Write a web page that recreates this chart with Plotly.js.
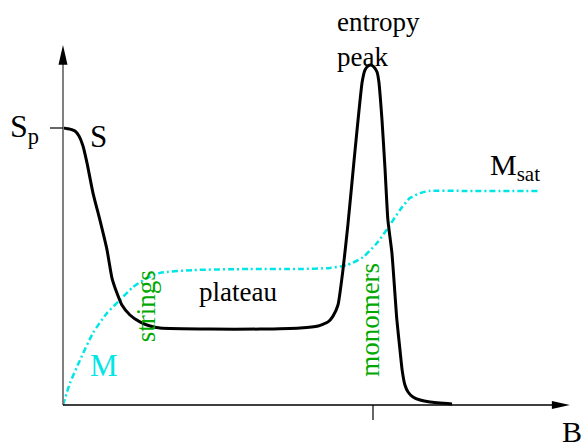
<!DOCTYPE html>
<html>
<head>
<meta charset="utf-8">
<script src="https://cdn.plot.ly/plotly-3.0.1.min.js"></script>
<style>html,body{margin:0;padding:0;background:#fff;}#chart{width:583px;height:448px;}</style>
</head>
<body>
<div id="chart"></div>
<script>
// Entropy S(B) (units of Sp) and magnetization M(B) (field in units of saturation-field tick)
var B_S = [0, 0.0226, 0.0387, 0.0516, 0.0645, 0.0774, 0.0968, 0.119, 0.142, 0.158, 0.174, 0.190, 0.216, 0.248, 0.281, 0.313, 0.474, 0.635, 0.765, 0.823, 0.855, 0.871, 0.887, 0.903, 0.919, 0.939, 0.955, 0.965, 0.974, 0.984, 0.994, 1.003, 1.013, 1.019, 1.029, 1.039, 1.048, 1.061, 1.077, 1.087, 1.094, 1.103, 1.113, 1.129, 1.152, 1.184, 1.255];
var S_vals = [1.0, 0.996, 0.989, 0.971, 0.935, 0.874, 0.765, 0.668, 0.560, 0.458, 0.404, 0.361, 0.325, 0.300, 0.285, 0.278, 0.274, 0.274, 0.278, 0.285, 0.300, 0.321, 0.361, 0.487, 0.650, 0.884, 1.065, 1.166, 1.209, 1.224, 1.227, 1.220, 1.202, 1.166, 1.029, 0.848, 0.668, 0.549, 0.307, 0.199, 0.126, 0.072, 0.047, 0.029, 0.018, 0.011, 0.004];

var B_M = [0, 0.0226, 0.0548, 0.0968, 0.142, 0.184, 0.226, 0.271, 0.313, 0.419, 0.603, 0.765, 0.861, 0.916, 0.968, 1.013, 1.048, 1.087, 1.119, 1.152, 1.184, 1.290, 1.532];
var M_vals = [0, 0.079, 0.162, 0.260, 0.332, 0.379, 0.426, 0.458, 0.477, 0.487, 0.491, 0.491, 0.495, 0.505, 0.534, 0.585, 0.639, 0.704, 0.747, 0.765, 0.773, 0.773, 0.773];

var xTickVals = [1];
var Bmax = 1.635;   // end of B axis arrow
var Smax = 1.30;    // end of S axis arrow

var green = '#00a800';
var cyan = '#00e6e6';
var serif = '"Liberation Serif", "DejaVu Serif", "Times New Roman", Times, "Nimbus Roman", "Nimbus Roman No9 L", "FreeSerif", "Noto Serif", Tinos, serif';

var traces = [
  {x: B_M, y: M_vals, mode: 'lines', type: 'scatter',
   line: {color: cyan, width: 2.5, dash: '6px,3px,2px,3px', shape: 'spline', smoothing: 0.6}, hoverinfo: 'skip'},
  {x: B_S, y: S_vals, mode: 'lines', type: 'scatter',
   line: {color: '#000', width: 3, shape: 'spline', smoothing: 0.5}, hoverinfo: 'skip'}
];

var shapes = [
  // y axis
  {type: 'line', xref: 'x', yref: 'y', x0: 0, x1: 0, y0: 0, y1: Smax - 0.06, line: {color: '#808080', width: 2}},
  {type: 'path', xref: 'x', yref: 'y', path: 'M -0.0145 ' + (Smax - 0.072) + ' L 0.0145 ' + (Smax - 0.072) + ' L 0 ' + Smax + ' Z', fillcolor: '#000', line: {width: 0}},
  // x axis
  {type: 'line', xref: 'x', yref: 'y', x0: 0, x1: Bmax - 0.05, y0: 0, y1: 0, line: {color: '#000', width: 1.5}},
  {type: 'path', xref: 'x', yref: 'y', path: 'M ' + (Bmax - 0.058) + ' -0.0144 L ' + (Bmax - 0.058) + ' 0.0144 L ' + Bmax + ' 0 Z', fillcolor: '#000', line: {width: 0}},
  // Sp tick
  {type: 'line', xref: 'x', yref: 'y', x0: -0.042, x1: 0, y0: 1, y1: 1, line: {color: '#000', width: 1.2}}
];
xTickVals.forEach(function (v) {
  shapes.push({type: 'line', xref: 'x', yref: 'y', x0: v, x1: v, y0: 0, y1: -0.054, line: {color: '#000', width: 1.2}});
});

function ann(text, x, y, size, color, extra) {
  var a = {text: text, x: x, y: y, xref: 'x', yref: 'y', showarrow: false,
           font: {family: serif, size: size, color: color}};
  for (var k in extra) a[k] = extra[k];
  return a;
}

var annotations = [
  ann('S<sub>p</sub>', -0.072, 1.0, 32, '#000', {xanchor: 'right', yanchor: 'middle'}),
  ann('S', 0.113, 0.971, 31, '#000', {}),
  ann('M', 0.132, 0.144, 31, cyan, {}),
  ann('M<sub>sat</sub>', 1.371, 0.86, 30, '#000', {xanchor: 'left'}),
  ann('B', 1.642, -0.095, 30, '#000', {}),
  ann('strings', 0.268, 0.357, 27, green, {textangle: -90}),
  ann('monomers', 0.990, 0.307, 27, green, {textangle: -90}),
  ann('plateau', 0.565, 0.408, 27, '#000', {}),
  ann('entropy<br>peak', 0.877, 1.444, 27, '#000', {xanchor: 'left', yanchor: 'top', align: 'left'})
];

var layout = {
  width: 583, height: 448,
  margin: {l: 0, r: 0, t: 0, b: 0},
  paper_bgcolor: '#fff', plot_bgcolor: '#fff',
  showlegend: false,
  font: {family: serif},
  xaxis: {range: [-0.2032, 1.6774], visible: false, fixedrange: true},
  yaxis: {range: [-0.1552, 1.4621], visible: false, fixedrange: true},
  shapes: shapes,
  annotations: annotations
};

Plotly.newPlot('chart', traces, layout, {staticPlot: true, displayModeBar: false});
</script>
</body>
</html>
